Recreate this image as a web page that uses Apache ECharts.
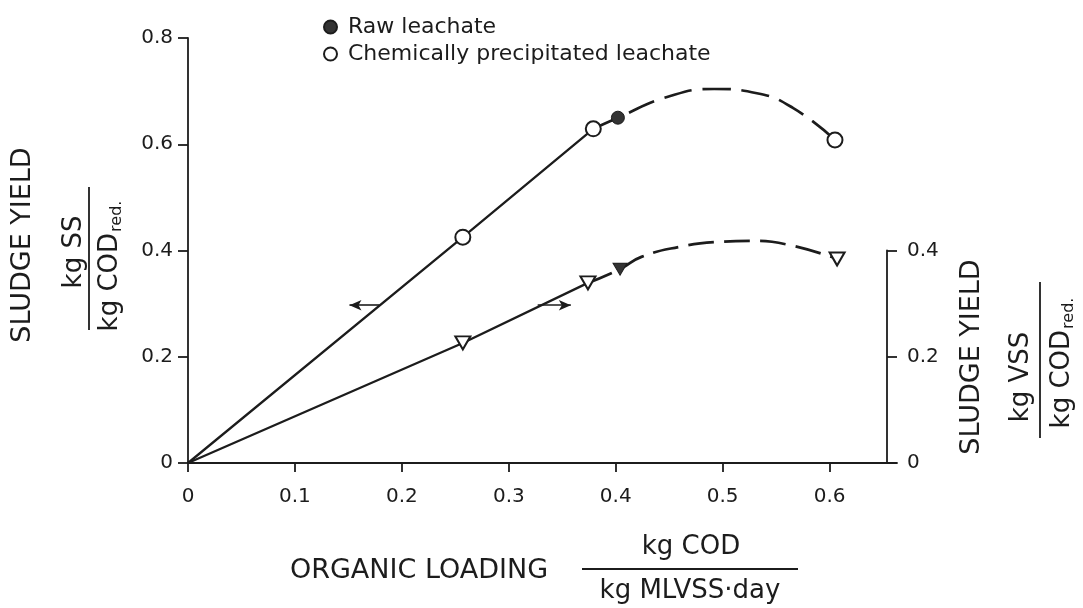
<!DOCTYPE html>
<html>
<head>
<meta charset="utf-8">
<title>Sludge yield vs organic loading</title>
<script src="https://cdn.jsdelivr.net/npm/echarts@6/dist/echarts.min.js"></script>
<style>
  html, body { margin: 0; padding: 0; background: #ffffff; }
  #chart { width: 1083px; height: 608px; }
</style>
</head>
<body>
<div id="chart"></div>
<script>
// Axis tick values
const xTicks = [0, 0.1, 0.2, 0.3, 0.4, 0.5, 0.6];
const ssTicks = [0, 0.2, 0.4, 0.6, 0.8];
const vssTicks = [0, 0.2, 0.4];

// Sludge yield, kg SS / kg COD red. (left axis)
const ssFitLine = [[0, 0], [0.257, 0.425], [0.379, 0.629]];
const ssTrendCurve = [[0.379, 0.629], [0.402, 0.650], [0.448, 0.689], [0.492, 0.704], [0.532, 0.696], [0.566, 0.668], [0.605, 0.608]];
const ssPrecipitated = [[0.257, 0.425], [0.379, 0.629], [0.605, 0.608]];
const ssRaw = [[0.402, 0.650]];

// Sludge yield, kg VSS / kg COD red. (right axis)
const vssFitLine = [[0, 0], [0.257, 0.226], [0.374, 0.339]];
const vssTrendCurve = [[0.374, 0.339], [0.404, 0.365], [0.424, 0.388], [0.460, 0.407], [0.494, 0.416], [0.528, 0.418], [0.563, 0.410], [0.607, 0.384]];
const vssPrecipitated = [[0.257, 0.226], [0.374, 0.339], [0.607, 0.384]];
const vssRaw = [[0.404, 0.365]];

// Arrows telling which axis each line belongs to
const ssArrow = [[0.179, 0.297], [0.151, 0.297]];
const vssArrow = [[0.327, 0.297], [0.358, 0.297]];

const INK = '#1c1c1c';
const FONT = 'DejaVu Sans';

// Plot frame: the bottom axis runs a little past the right-hand axis,
// so the right-hand grid is narrower but keeps the same x scale.
const W = 1083;
const PLOT_LEFT = 188;
const MAIN_RIGHT = 186;
const VSS_RIGHT = 196;
const X_MAX = 0.663;
const PX_PER_UNIT = (W - PLOT_LEFT - MAIN_RIGHT) / X_MAX;
const X_MAX_VSS = (W - PLOT_LEFT - VSS_RIGHT) / PX_PER_UNIT;

const chart = echarts.init(document.getElementById('chart'), null, { renderer: 'canvas' });

const fmt = v => String(+v.toFixed(2));

const arrowMark = (pts) => ({
  silent: true,
  symbol: ['none', 'arrow'],
  symbolSize: [8, 12],
  lineStyle: { color: INK, width: 1.6, type: 'solid' },
  label: { show: false },
  emphasis: { disabled: true },
  data: [[{ coord: pts[0] }, { coord: pts[1] }]]
});

const option = {
  backgroundColor: '#ffffff',
  animation: false,
  textStyle: { fontFamily: FONT, color: INK },
  legend: {
    orient: 'vertical',
    left: 318,
    top: 11,
    itemWidth: 13,
    itemHeight: 13,
    itemGap: 5,
    icon: 'circle',
    data: ['Raw leachate', 'Chemically precipitated leachate'],
    textStyle: { fontFamily: FONT, fontSize: 22, color: INK, padding: [0, 0, 0, 6] },
    selectedMode: false
  },
  grid: [
    { left: PLOT_LEFT, right: MAIN_RIGHT, top: 38, bottom: 145 },
    { left: PLOT_LEFT, right: VSS_RIGHT, top: 250.5, bottom: 145 }
  ],
  xAxis: [
    {
      gridIndex: 0, type: 'value', min: 0, max: X_MAX,
      axisLine: { show: true, onZero: false, lineStyle: { color: INK, width: 1.8 } },
      axisTick: { show: true, length: 9, lineStyle: { color: INK, width: 1.8 }, customValues: xTicks },
      axisLabel: { color: INK, fontSize: 20, fontFamily: FONT, margin: 24, formatter: fmt, customValues: xTicks },
      splitLine: { show: false }
    },
    {
      gridIndex: 1, type: 'value', min: 0, max: X_MAX_VSS, show: false
    }
  ],
  yAxis: [
    {
      gridIndex: 0, type: 'value', position: 'left', min: 0, max: 0.8, interval: 0.2,
      axisLine: { show: true, lineStyle: { color: INK, width: 1.8 } },
      axisTick: { show: true, length: 10, lineStyle: { color: INK, width: 1.8 }, customValues: ssTicks },
      axisLabel: { color: INK, fontSize: 20, fontFamily: FONT, margin: 15, formatter: fmt, customValues: ssTicks },
      splitLine: { show: false }
    },
    {
      gridIndex: 1, type: 'value', position: 'right', min: 0, max: 0.4, interval: 0.2,
      axisLine: { show: true, onZero: false, lineStyle: { color: INK, width: 1.8 } },
      axisTick: { show: true, length: 10, lineStyle: { color: INK, width: 1.8 }, customValues: vssTicks },
      axisLabel: { color: INK, fontSize: 20, fontFamily: FONT, margin: 20, formatter: fmt, customValues: vssTicks },
      splitLine: { show: false }
    }
  ],
  series: [
    {
      name: 'SS fit', type: 'line', xAxisIndex: 0, yAxisIndex: 0,
      data: ssFitLine, showSymbol: false, symbol: 'none', silent: true,
      lineStyle: { color: INK, width: 2.3 },
      markLine: arrowMark(ssArrow), z: 2
    },
    {
      name: 'SS trend', type: 'line', xAxisIndex: 0, yAxisIndex: 0,
      data: ssTrendCurve, smooth: 0.5, showSymbol: false, symbol: 'none', silent: true,
      lineStyle: { color: INK, width: 2.7, type: [28, 11] }, z: 2
    },
    {
      name: 'VSS fit', type: 'line', xAxisIndex: 1, yAxisIndex: 1,
      data: vssFitLine, showSymbol: false, symbol: 'none', silent: true, clip: false,
      lineStyle: { color: INK, width: 2.3 },
      markLine: arrowMark(vssArrow), z: 2
    },
    {
      name: 'VSS trend', type: 'line', xAxisIndex: 1, yAxisIndex: 1,
      data: vssTrendCurve, smooth: 0.5, showSymbol: false, symbol: 'none', silent: true, clip: false,
      lineStyle: { color: INK, width: 2.7, type: [26, 10] }, z: 2
    },
    {
      name: 'Chemically precipitated leachate', type: 'scatter', xAxisIndex: 0, yAxisIndex: 0,
      data: ssPrecipitated, symbol: 'circle', symbolSize: 15,
      itemStyle: { color: '#ffffff', borderColor: INK, borderWidth: 2, opacity: 1 }, z: 5
    },
    {
      name: 'Raw leachate', type: 'scatter', xAxisIndex: 0, yAxisIndex: 0,
      data: ssRaw, symbol: 'circle', symbolSize: 13,
      itemStyle: { color: '#333333', borderColor: INK, borderWidth: 1, opacity: 1 }, z: 5
    },
    {
      name: 'VSS precipitated', type: 'scatter', xAxisIndex: 1, yAxisIndex: 1,
      data: vssPrecipitated, symbol: 'triangle', symbolRotate: 180, symbolSize: [15, 13], clip: false,
      itemStyle: { color: '#ffffff', borderColor: INK, borderWidth: 2, opacity: 1 }, z: 5
    },
    {
      name: 'VSS raw', type: 'scatter', xAxisIndex: 1, yAxisIndex: 1,
      data: vssRaw, symbol: 'triangle', symbolRotate: 180, symbolSize: [14, 12], clip: false,
      itemStyle: { color: '#333333', borderColor: INK, borderWidth: 1, opacity: 1 }, z: 5
    }
  ],
  graphic: [
    // left axis title
    { type: 'text', x: 23, y: 245, rotation: Math.PI / 2,
      style: { text: 'SLUDGE YIELD', font: '27px "DejaVu Sans"', fill: INK, align: 'center', verticalAlign: 'middle' } },
    { type: 'text', x: 74, y: 252, rotation: Math.PI / 2,
      style: { text: 'kg SS', font: '26px "DejaVu Sans"', fill: INK, align: 'center', verticalAlign: 'middle' } },
    { type: 'line', shape: { x1: 89, y1: 187, x2: 89, y2: 330 }, style: { stroke: INK, lineWidth: 1.8 } },
    { type: 'text', x: 110, y: 266, rotation: Math.PI / 2,
      style: { text: 'kg COD{s|red.}', font: '26px "DejaVu Sans"', fill: INK, align: 'center', verticalAlign: 'middle',
        rich: { s: { fontSize: 16, fontFamily: FONT, verticalAlign: 'bottom', lineHeight: 30, padding: [0, 0, 0, 1] } } } },
    // right axis title
    { type: 'text', x: 972, y: 357, rotation: Math.PI / 2,
      style: { text: 'SLUDGE YIELD', font: '27px "DejaVu Sans"', fill: INK, align: 'center', verticalAlign: 'middle' } },
    { type: 'text', x: 1021, y: 377, rotation: Math.PI / 2,
      style: { text: 'kg VSS', font: '26px "DejaVu Sans"', fill: INK, align: 'center', verticalAlign: 'middle' } },
    { type: 'line', shape: { x1: 1040, y1: 282, x2: 1040, y2: 438 }, style: { stroke: INK, lineWidth: 1.8 } },
    { type: 'text', x: 1062, y: 363, rotation: Math.PI / 2,
      style: { text: 'kg COD{s|red.}', font: '26px "DejaVu Sans"', fill: INK, align: 'center', verticalAlign: 'middle',
        rich: { s: { fontSize: 16, fontFamily: FONT, verticalAlign: 'bottom', lineHeight: 30, padding: [0, 0, 0, 1] } } } },
    // x axis title
    { type: 'text', x: 419, y: 571,
      style: { text: 'ORGANIC LOADING', font: '27px "DejaVu Sans"', fill: INK, align: 'center', verticalAlign: 'middle' } },
    { type: 'text', x: 691, y: 547,
      style: { text: 'kg COD', font: '26px "DejaVu Sans"', fill: INK, align: 'center', verticalAlign: 'middle' } },
    { type: 'line', shape: { x1: 582, y1: 569, x2: 798, y2: 569 }, style: { stroke: INK, lineWidth: 1.8 } },
    { type: 'text', x: 690, y: 591,
      style: { text: 'kg MLVSS·day', font: '26px "DejaVu Sans"', fill: INK, align: 'center', verticalAlign: 'middle' } }
  ]
};

chart.setOption(option);
</script>
</body>
</html>
